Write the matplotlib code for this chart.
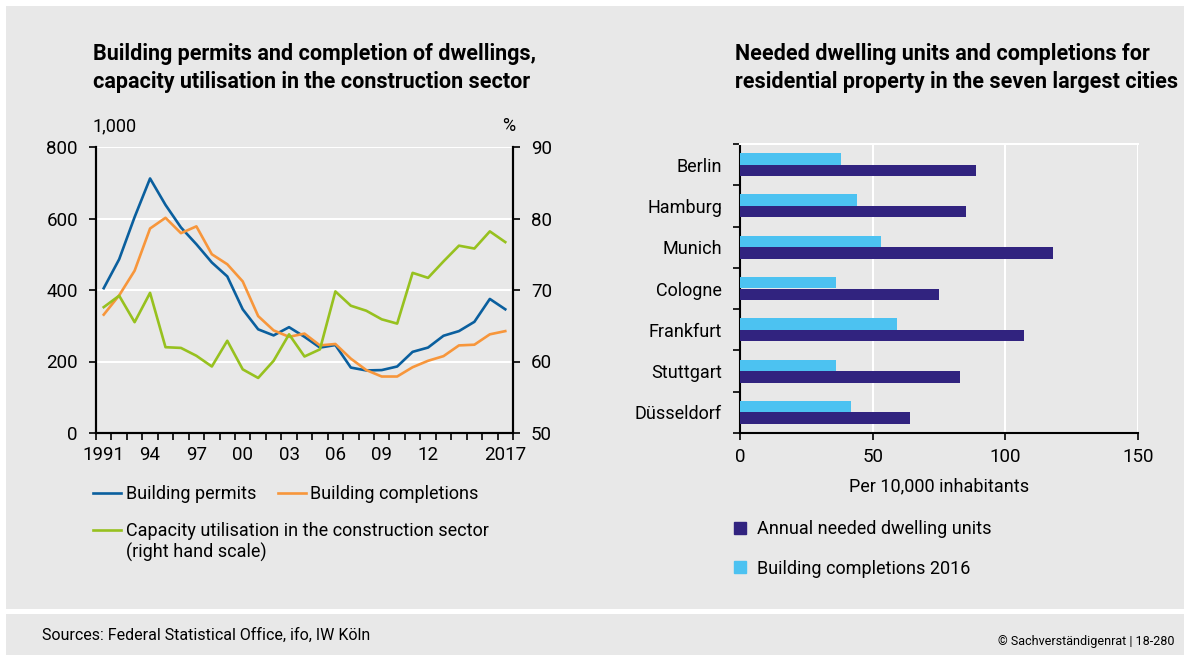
import matplotlib
matplotlib.use("Agg")
import matplotlib.pyplot as plt
from matplotlib.patches import Rectangle, Patch

# Datos
years = list(range(1991, 2018))
permits = [405, 486, 604, 712, 638, 575, 528, 477, 438, 346, 290, 273, 296, 269, 239,
           246, 183, 175, 176, 186, 227, 239, 272, 285, 311, 375, 346]
completions = [331, 385, 454, 572, 602, 559, 578, 500, 472, 424, 327, 287, 269, 278, 245,
               249, 208, 176, 158, 158, 184, 202, 215, 245, 247, 276, 285]
capacity = [67.6, 69.2, 65.5, 69.6, 62.0, 61.9, 60.8, 59.3, 62.9, 58.9, 57.7, 60.1, 63.8,
            60.7, 61.7, 69.8, 67.8, 67.1, 65.9, 65.3, 72.4, 71.7, 74.0, 76.2, 75.8, 78.2, 76.7]
year_ticks = [1991, 1994, 1997, 2000, 2003, 2006, 2009, 2012, 2017]
year_labels = ["1991", "94", "97", "00", "03", "06", "09", "12", "2017"]

cities = ["Berlin", "Hamburg", "Munich", "Cologne", "Frankfurt", "Stuttgart", "Düsseldorf"]
needed = [89, 85, 118, 75, 107, 83, 64]
completed_2016 = [38, 44, 53, 36, 59, 36, 42]

# Colores
bg = "#e8e8e8"
c_blue = "#0a5f9e"
c_orange = "#f7963b"
c_green = "#97c11f"
c_navy = "#31237f"
c_light = "#4cc2f1"

plt.rcParams["font.family"] = ["Roboto", "DejaVu Sans"]
plt.rcParams["font.size"] = 13

W, H = 1184, 655
fig = plt.figure(figsize=(W / 100, H / 100), dpi=100, facecolor="white")

# Fondo gris
fig.add_artist(Rectangle((6 / W, 1 - 609 / H), 1, 603 / H, transform=fig.transFigure,
                         facecolor=bg, edgecolor="none", zorder=-10))
fig.add_artist(Rectangle((6 / W, 0), 1, 1 - 614 / H, transform=fig.transFigure,
                         facecolor=bg, edgecolor="none", zorder=-10))

def fx(px):
    return px / W

def fy(py):
    return 1 - py / H

# ---------------- Gráfico izquierdo ----------------
ax = fig.add_axes([fx(96), fy(433), fx(513) - fx(96), fy(147) - fy(433)])
ax.set_facecolor(bg)
ax.plot(years, permits, color=c_blue, lw=1.9, label="Building permits", zorder=3)
ax.plot(years, completions, color=c_orange, lw=1.9, label="Building completions", zorder=3)
ax.set_xlim(1990.5, 2017.5)
ax.set_ylim(0, 800)
ax.set_yticks([0, 200, 400, 600, 800])
ax.grid(axis="y", color="white", lw=1.5)
ax.set_axisbelow(True)
ax.set_xticks(year_ticks)
ax.set_xticklabels(year_labels)
ax.set_xticks([y - 0.5 for y in range(1991, 2019)], minor=True)
ax.tick_params(axis="x", which="major", length=0, pad=9, labelsize=13.5)
ax.tick_params(axis="x", which="minor", length=5, width=1.2, direction="out")
ax.tick_params(axis="y", length=5, width=1.2, direction="out", labelsize=13.5, pad=8)
for s in ["left", "right", "bottom"]:
    ax.spines[s].set_linewidth(1.5)
ax.spines["top"].set_visible(False)

ax2 = ax.twinx()
ax2.plot(years, capacity, color=c_green, lw=1.9,
         label="Capacity utilisation in the construction sector", zorder=3)
ax2.set_ylim(50, 90)
ax2.set_yticks([50, 60, 70, 80, 90])
ax2.tick_params(axis="y", length=5, width=1.2, direction="out", labelsize=13.5, pad=8)
for s in ["left", "right", "bottom"]:
    ax2.spines[s].set_linewidth(1.5)
ax2.spines["top"].set_visible(False)

fig.text(fx(93), fy(126), "1,000", fontsize=13, va="center", ha="left")
fig.text(fx(515), fy(126), "%", fontsize=13, va="center", ha="right")

fig.text(fx(93), fy(68), "Building permits and completion of dwellings,\n"
         "capacity utilisation in the construction sector",
         fontsize=15.5, fontweight="bold", va="center", ha="left", linespacing=1.3)

h1, l1 = ax.get_legend_handles_labels()
h2, l2 = ax2.get_legend_handles_labels()
fig.legend(h1, l1, loc="center left", bbox_to_anchor=(fx(93), fy(494)), ncol=2,
           frameon=False, fontsize=13, handlelength=1.55, handletextpad=0.25,
           columnspacing=1.2, borderpad=0, borderaxespad=0)
fig.legend(h2, l2, loc="center left", bbox_to_anchor=(fx(93), fy(531)),
           frameon=False, fontsize=13, handlelength=1.55, handletextpad=0.25,
           borderpad=0, borderaxespad=0)
fig.text(fx(126), fy(552), "(right hand scale)", fontsize=13, va="center", ha="left")

# ---------------- Gráfico derecho ----------------
bx = fig.add_axes([fx(740), fy(433), fx(1138) - fx(740), fy(144) - fy(433)])
bx.set_facecolor(bg)
pos = list(range(len(cities)))
bh = 0.28
bx.barh([p + bh / 2 for p in pos], needed, height=bh, color=c_navy,
        label="Annual needed dwelling units", zorder=3)
bx.barh([p - bh / 2 for p in pos], completed_2016, height=bh, color=c_light,
        label="Building completions 2016", zorder=3)
bx.set_ylim(len(cities) - 0.5, -0.5)
bx.set_xlim(0, 150)
bx.set_xticks([0, 50, 100, 150])
bx.set_yticks(pos)
bx.set_yticklabels(cities)
bx.set_yticks([p - 0.5 for p in range(len(cities) + 1)], minor=True)
bx.tick_params(axis="y", which="major", length=0, pad=13, labelsize=13)
bx.tick_params(axis="y", which="minor", length=5, width=1.2, direction="out")
bx.tick_params(axis="x", length=5, width=1.2, direction="out", labelsize=13.5, pad=6)
bx.grid(axis="x", color="white", lw=1.5)
bx.set_axisbelow(True)
bx.spines["left"].set_linewidth(1.5)
bx.spines["bottom"].set_linewidth(1.5)
bx.spines["top"].set_color("white")
bx.spines["top"].set_linewidth(1.5)
bx.spines["right"].set_visible(False)
bx.set_xlabel("Per 10,000 inhabitants", fontsize=13, labelpad=8)

fig.text(fx(735), fy(68), "Needed dwelling units and completions for\n"
         "residential property in the seven largest cities",
         fontsize=15.5, fontweight="bold", va="center", ha="left", linespacing=1.3)

bh_handles = [Patch(color=c_navy), Patch(color=c_light)]
fig.legend(bh_handles, ["Annual needed dwelling units", "Building completions 2016"],
           loc="upper left", bbox_to_anchor=(fx(734), fy(520)), frameon=False,
           fontsize=13, handlelength=0.65, handleheight=0.65, handletextpad=0.65,
           labelspacing=1.2, borderpad=0, borderaxespad=0)

# Pie
fig.text(fx(42), fy(635), "Sources: Federal Statistical Office, ifo, IW Köln",
         fontsize=11.5, va="center", ha="left")
fig.text(fx(1175), fy(642), "© Sachverständigenrat | 18-280",
         fontsize=9, va="center", ha="right")

fig.savefig("out.png", dpi=100, facecolor=fig.get_facecolor())
